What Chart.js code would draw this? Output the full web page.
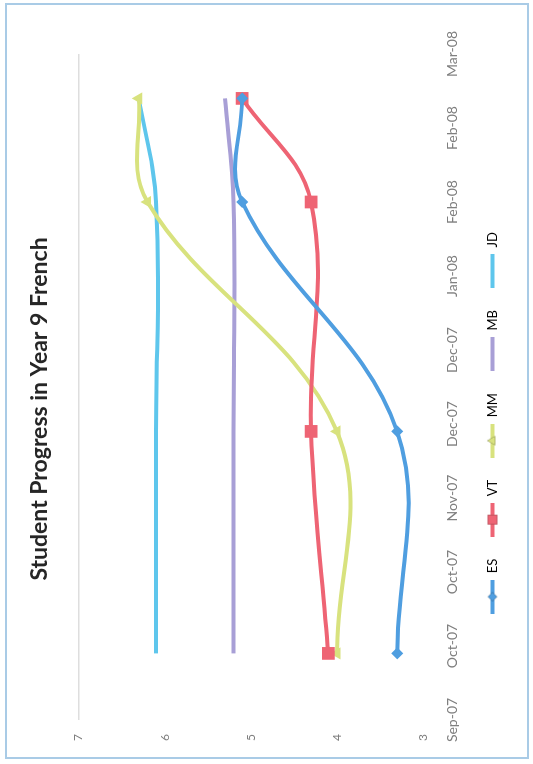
<!DOCTYPE html>
<html>
<head>
<meta charset="utf-8">
<script src="https://cdn.jsdelivr.net/npm/chart.js@4.4.1/dist/chart.umd.min.js"></script>
<style>
  html, body { margin: 0; padding: 0; background: #ffffff; width: 533px; height: 764px; overflow: hidden; }
  #frame { position: absolute; left: 5px; top: 3px; width: 520px; height: 752px; border: 2px solid #a9cbe6; }
  /* the chart is laid out landscape and turned a quarter turn anticlockwise */
  #turn { position: absolute; left: 0; top: 0; width: 764px; height: 533px;
          transform-origin: 0 0; transform: translateY(764px) rotate(-90deg); }
</style>
</head>
<body>
<div id="frame"></div>
<div id="turn"><canvas id="c" width="764" height="533"></canvas></div>
<script>
// Date axis: one tick every 20 days, starting 16 Sep 2007
const tickLabels = ['Sep-07', 'Oct-07', 'Oct-07', 'Nov-07', 'Dec-07', 'Dec-07', 'Jan-08', 'Feb-08', 'Feb-08', 'Mar-08'];
const tickStepDays = 20;
// Assessment dates, as days after the first tick
const assessmentDays = [18, 78, 140, 168];
// Attainment levels per student
const ES = [3.3, 3.3, 5.1, 5.1];
const VT = [4.1, 4.3, 4.3, 5.1];
const MM = [4.0, 4.0, 6.2, 6.3];
const MB = [5.2, 5.2, 5.2, 5.3];
const JD = [6.1, 6.1, 6.1, 6.3];
const levelTicks = [3, 4, 5, 6, 7];

const FONT = 'Lato, "Open Sans", sans-serif';

const seriesStyle = [
  { name: 'ES', values: ES, color: '#4f9ee0', marker: 'rectRot', radius: 6 },
  { name: 'VT', values: VT, color: '#ee6474', marker: 'rect', radius: 9 },
  { name: 'MM', values: MM, color: '#d8e27e', marker: 'triangle', radius: 7 },
  { name: 'MB', values: MB, color: '#a89fd6', marker: false, radius: 0 },
  { name: 'JD', values: JD, color: '#5ec6ec', marker: false, radius: 0 }
];

// small line-with-marker swatch for the legend
function legendSwatch(s) {
  const cv = document.createElement('canvas');
  cv.width = 34; cv.height = 18;
  const g = cv.getContext('2d');
  g.strokeStyle = s.color; g.lineWidth = 4;
  g.beginPath(); g.moveTo(0, 9); g.lineTo(34, 9); g.stroke();
  if (s.marker) {
    Chart.helpers.drawPoint(g, { pointStyle: s.marker, radius: s.radius * 0.75, borderWidth: 0 }, 17, 9);
    g.fillStyle = s.color; g.fill();
  }
  return cv;
}

const datasets = seriesStyle.map(s => ({
  label: s.name,
  data: assessmentDays.map((d, i) => ({ x: d, y: s.values[i] })),
  borderColor: s.color,
  backgroundColor: s.color,
  borderWidth: 4,
  tension: 0.38,
  pointStyle: s.marker || 'circle',
  pointRadius: s.radius,
  pointBorderWidth: 0,
  pointBackgroundColor: s.color
}));

// nudge the legend row a little toward the start of the axis
const legendShift = {
  id: 'legendShift',
  afterLayout(chart) {
    if (chart.legend) { chart.legend.left -= 14; chart.legend.right -= 14; }
  }
};

new Chart(document.getElementById('c'), {
  type: 'line',
  data: { datasets },
  plugins: [legendShift],
  options: {
    responsive: false,
    animation: false,
    layout: { padding: { left: 0, right: 54, top: 0, bottom: 24 } },
    plugins: {
      title: {
        display: true,
        text: 'Student Progress in Year 9 French',
        color: '#262626',
        font: { family: FONT, size: 23, weight: 'bold' },
        padding: { top: 26, bottom: 25 }
      },
      legend: {
        position: 'bottom',
        labels: {
          usePointStyle: true,
          pointStyleWidth: 34,
          padding: 22,
          color: '#595959',
          font: { family: FONT, size: 13 },
          generateLabels: chart => seriesStyle.map((s, i) => ({
            text: s.name,
            pointStyle: legendSwatch(s),
            fillStyle: s.color,
            strokeStyle: s.color,
            lineWidth: 0,
            datasetIndex: i,
            hidden: false
          }))
        }
      },
      tooltip: { enabled: false }
    },
    scales: {
      x: {
        type: 'linear',
        min: 0,
        max: (tickLabels.length - 1) * tickStepDays,
        border: { display: false },
        grid: { display: false, drawTicks: false },
        afterBuildTicks: scale => { scale.ticks = tickLabels.map((_, i) => ({ value: i * tickStepDays })); },
        ticks: {
          autoSkip: false,
          maxRotation: 0,
          padding: 21,
          color: '#7f7f7f',
          font: { family: FONT, size: 14 },
          callback: v => tickLabels[Math.round(v / tickStepDays)]
        },
        afterFit: scale => { scale.height = 41; }
      },
      y: {
        min: levelTicks[0],
        max: levelTicks[levelTicks.length - 1],
        border: { display: false },
        afterBuildTicks: scale => { scale.ticks = levelTicks.map(v => ({ value: v })); },
        grid: {
          drawTicks: false,
          color: c => (c.tick && c.tick.value === levelTicks[levelTicks.length - 1]) ? '#dedede' : 'rgba(0,0,0,0)',
          lineWidth: 1.5
        },
        ticks: {
          padding: 14,
          color: '#7f7f7f',
          font: { family: FONT, size: 12 }
        },
        afterFit: scale => { scale.width = 44; }
      }
    }
  }
});
</script>
</body>
</html>
